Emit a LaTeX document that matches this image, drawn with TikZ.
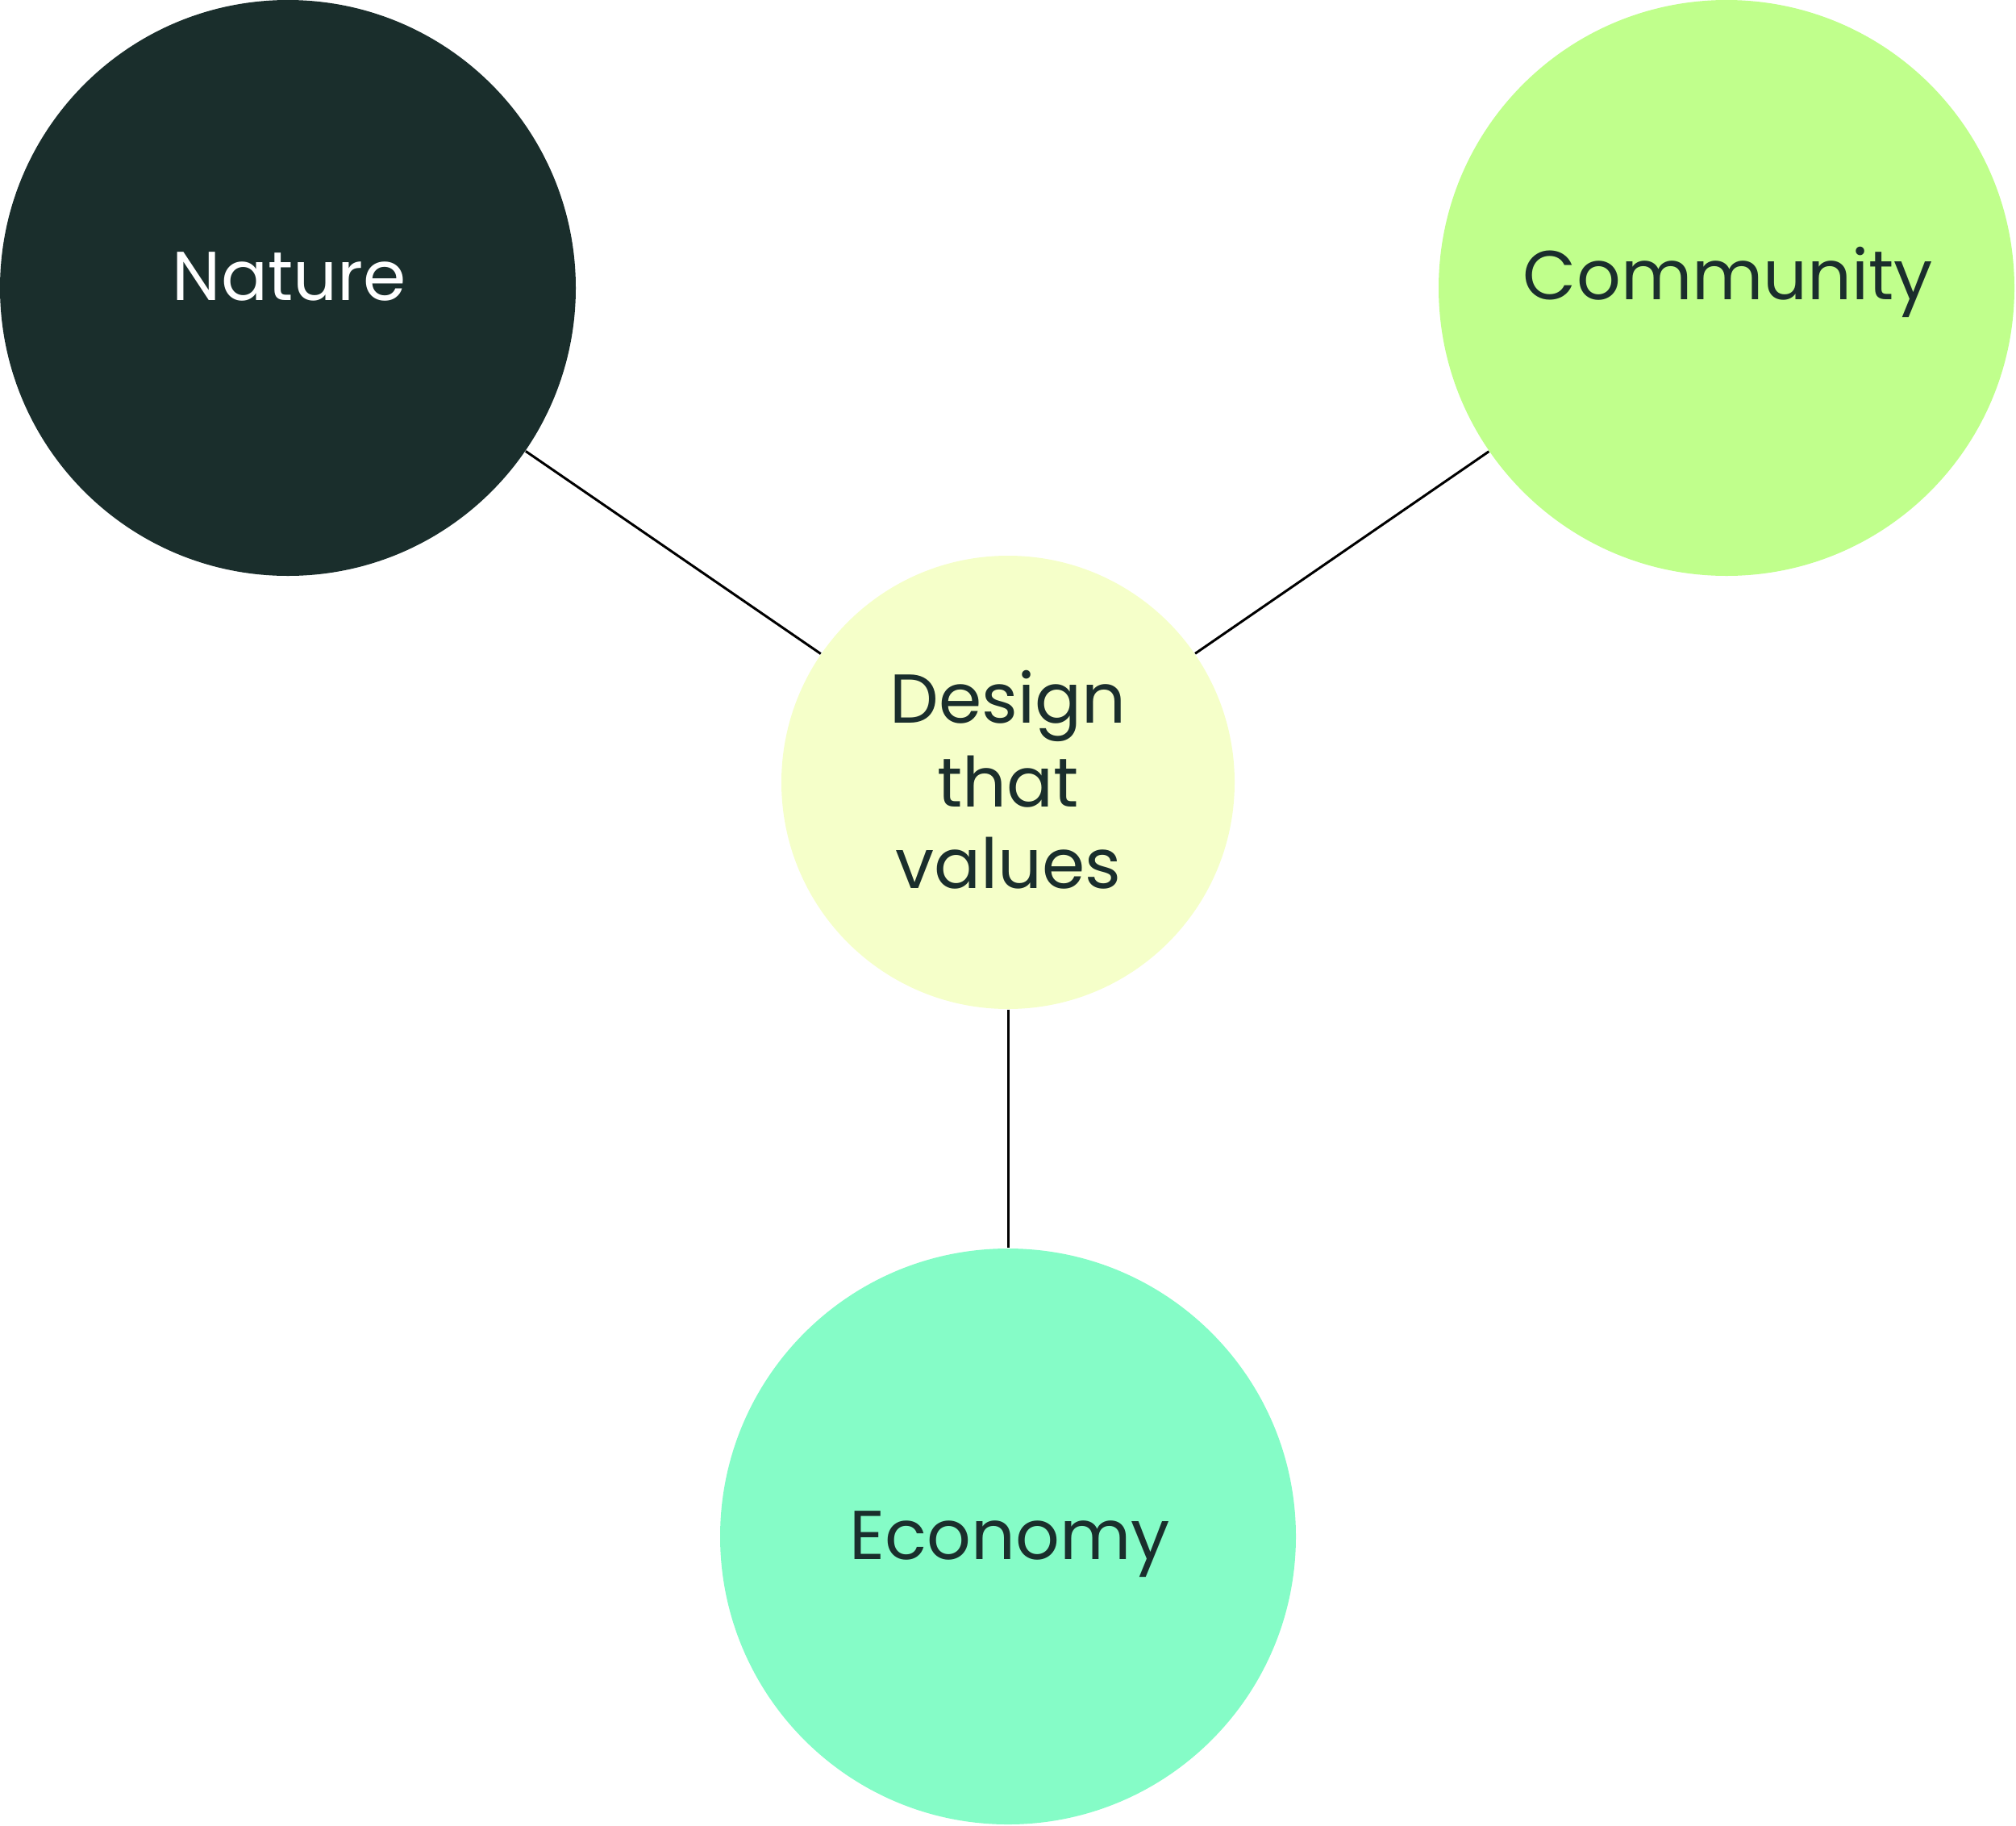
\documentclass[tikz,border=0pt]{standalone}
\usepackage{fontspec}
\setmainfont{Poppins}
\definecolor{pine}{HTML}{1A2E2C}
\definecolor{lime}{HTML}{C0FF8C}
\definecolor{cream}{HTML}{F5FFC9}
\definecolor{mint}{HTML}{85FCC7}
\tikzset{
  bubble/.style={circle, inner sep=0pt, minimum size=7.14cm},
  hubble/.style={circle, inner sep=0pt, minimum size=5.62cm},
  word/.style={anchor=base, font=\fontsize{24.4}{29.3}\selectfont, text=pine, inner sep=0pt}
}
\begin{document}
\begin{tikzpicture}
  \useasboundingbox (0,0) rectangle (25,-22.63);

  \node[bubble, fill=pine] (nature)    at (3.57,-3.57)   {};
  \node[bubble, fill=lime] (community) at (21.41,-3.57)  {};
  \node[hubble, fill=cream] (design)   at (12.50,-9.70)  {};
  \node[bubble, fill=mint] (economy)   at (12.50,-19.05) {};

  \draw[line width=0.03cm] (nature) -- (design);
  \draw[line width=0.03cm] (community) -- (design);
  \draw[line width=0.03cm] (design) -- (economy);

  \node[word, text=white] (naturetext) at (3.585,-3.72) {Nature};
  \node[word] (communitytext) at (21.43,-3.71) {Community};
  \node[word] (economytext)   at (12.52,-19.33) {Economy};
  \node[word] (designtext1)   at (12.50,-8.96) {Design};
  \node[word] (designtext2)   at (12.50,-10.00) {that};
  \node[word] (designtext3)   at (12.50,-11.01) {values};
\end{tikzpicture}
\end{document}
